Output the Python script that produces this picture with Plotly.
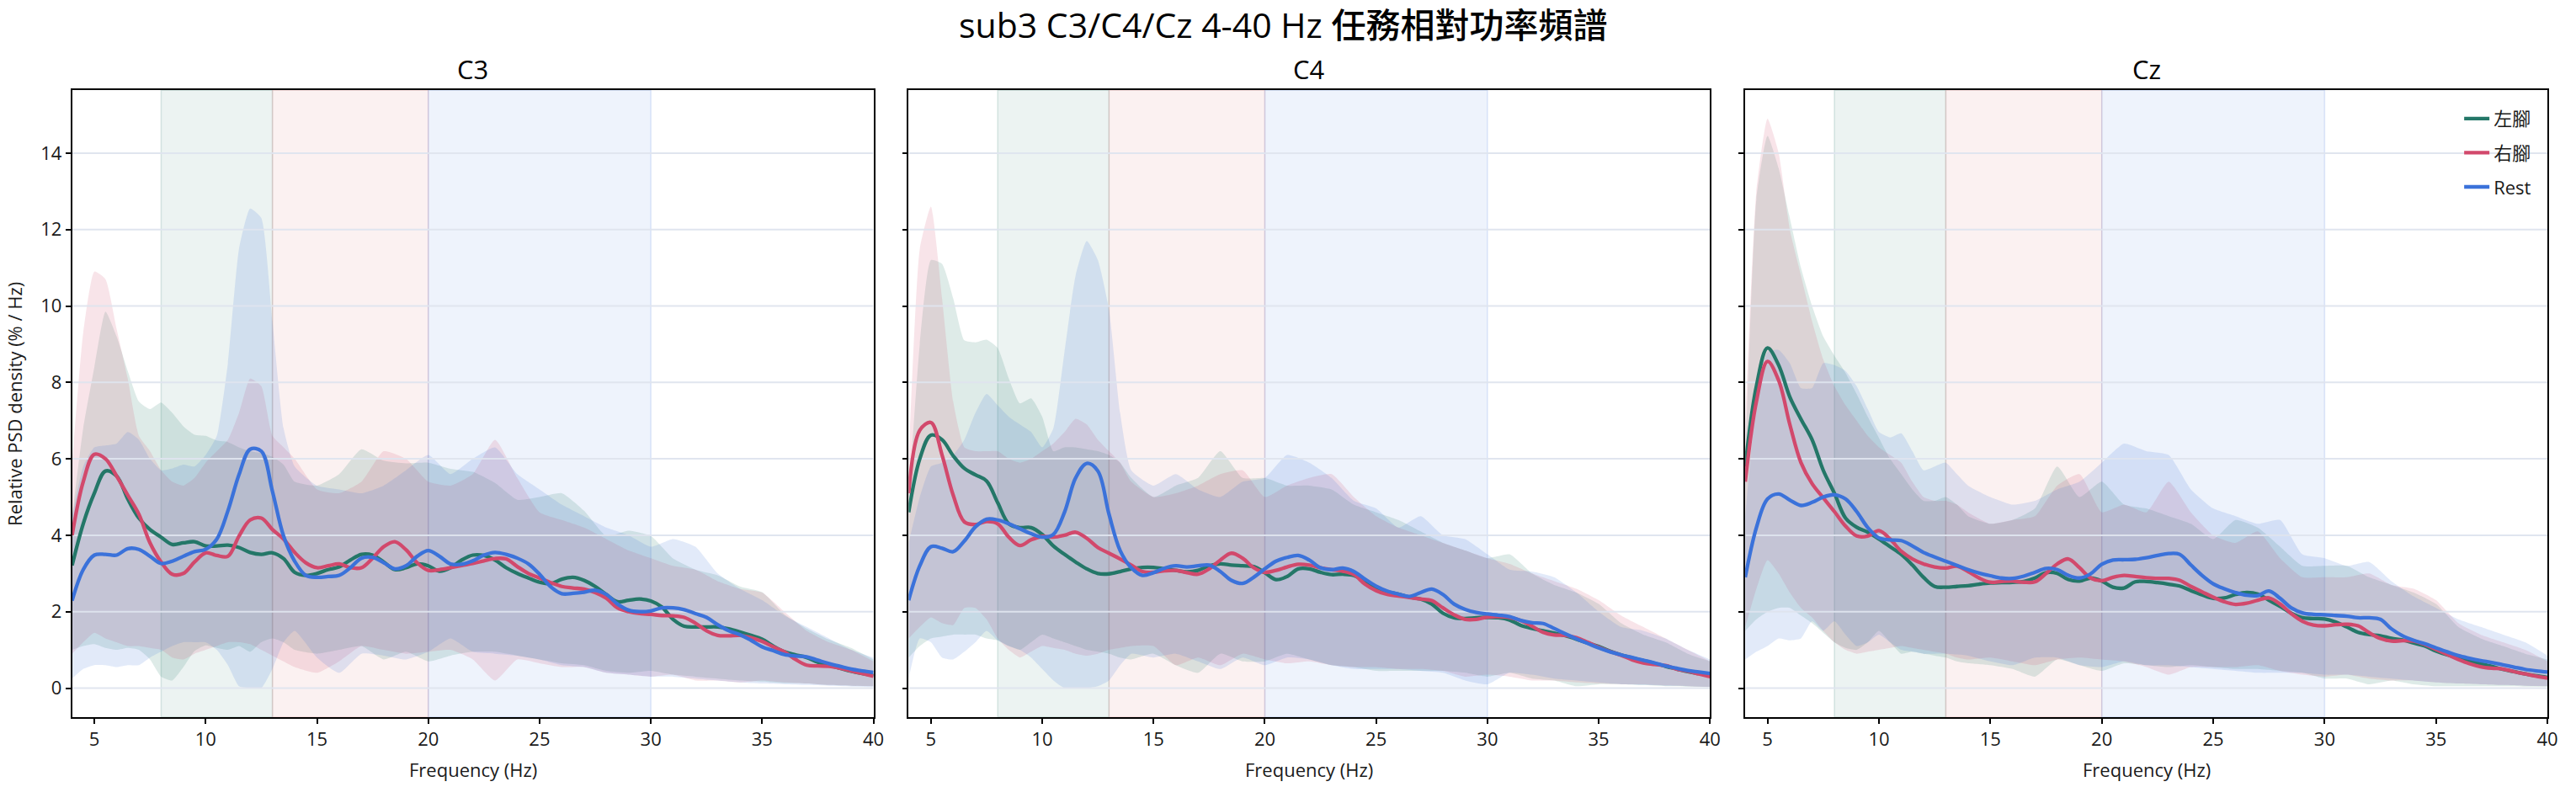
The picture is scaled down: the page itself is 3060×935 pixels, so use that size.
import numpy as np
import plotly.graph_objects as go

# ---------------- data ----------------
FREQ_MEAN = np.arange(4, 40.001, 0.5)                       # 73 points
BAND_FREQ = np.concatenate([np.arange(4, 14.001, 0.5), np.arange(15, 40.001, 1.0)])  # 47 points

CHANNELS = ["C3", "C4", "Cz"]
CONDITIONS = ["左腳", "右腳", "Rest"]
X_TICKS = [5, 10, 15, 20, 25, 30, 35, 40]
Y_TICKS = [0, 2, 4, 6, 8, 10, 12, 14]
FREQ_BANDS = [(8, 13), (13, 20), (20, 30)]

# ---- C3 ----
C3_LEFT_MEAN = [3.21, 4.3, 5.1, 5.68, 5.55, 4.95, 4.45, 4.15, 3.95, 3.76, 3.8, 3.83, 3.72, 3.72, 3.74, 3.68,
                3.55, 3.5, 3.54, 3.39, 3.03, 2.95, 3.0, 3.1, 3.17, 3.35, 3.5, 3.48, 3.3, 3.1, 3.15, 3.25,
                3.2, 3.06, 3.15, 3.35, 3.48, 3.47, 3.35, 3.15, 3.0, 2.88, 2.77, 2.73, 2.85, 2.9, 2.82, 2.66,
                2.45, 2.26, 2.3, 2.33, 2.28, 2.12, 1.8, 1.62, 1.6, 1.6, 1.6, 1.55, 1.47, 1.38, 1.28, 1.1,
                0.95, 0.87, 0.8, 0.68, 0.6, 0.52, 0.44, 0.38, 0.33]
C3_RIGHT_MEAN = [4.0, 5.4, 6.12, 6.0, 5.55, 5.05, 4.55, 3.8, 3.3, 2.98, 3.0, 3.3, 3.54, 3.47, 3.45, 3.98,
                 4.4, 4.45, 4.15, 3.9, 3.55, 3.28, 3.15, 3.2, 3.25, 3.15, 3.15, 3.4, 3.7, 3.83, 3.62, 3.28,
                 3.08, 3.1, 3.15, 3.21, 3.26, 3.33, 3.39, 3.38, 3.18, 3.0, 2.88, 2.76, 2.66, 2.62, 2.59, 2.5,
                 2.35, 2.1, 2.0, 1.95, 1.93, 1.9, 1.89, 1.85, 1.7, 1.5, 1.38, 1.37, 1.38, 1.32, 1.22, 1.08,
                 0.95, 0.75, 0.6, 0.58, 0.57, 0.52, 0.45, 0.38, 0.31]
C3_REST_MEAN = [2.29, 3.1, 3.48, 3.5, 3.48, 3.65, 3.63, 3.45, 3.26, 3.32, 3.45, 3.57, 3.63, 3.9, 4.64, 5.59,
                6.25, 6.2, 5.15, 3.98, 3.32, 2.95, 2.9, 2.92, 2.95, 3.15, 3.4, 3.42, 3.28, 3.12, 3.2, 3.45,
                3.6, 3.45, 3.25, 3.24, 3.33, 3.48, 3.55, 3.5, 3.4, 3.25, 2.98, 2.65, 2.47, 2.48, 2.51, 2.56,
                2.45, 2.2, 2.04, 2.0, 2.02, 2.1, 2.1, 2.05, 1.95, 1.85, 1.66, 1.5, 1.4, 1.25, 1.08, 0.98,
                0.88, 0.84, 0.82, 0.73, 0.64, 0.57, 0.5, 0.45, 0.41]
C3_LEFT_HI = [4.5, 6.8, 8.4, 9.85, 9.2, 8.3, 7.5, 7.3, 7.47, 7.2, 6.85, 6.63, 6.6, 6.48, 6.44, 6.3, 6.2, 6.15,
              6.05, 5.85, 5.4,
              5.3, 5.6, 6.25, 5.95, 5.88, 5.9, 5.74, 5.66, 5.37, 4.93, 5.0, 5.1, 4.64, 3.98, 4.12, 3.98,
              3.39, 3.1, 2.95, 2.66, 2.51, 1.93, 1.56, 1.27, 1.05, 0.75]
C3_LEFT_LO = [1.0, 1.1, 1.15, 1.05, 1.0, 1.05, 1.0, 0.75, 0.3, 0.2, 0.55, 0.97, 1.12, 1.05, 1.0, 1.1, 0.95,
              1.2, 1.3, 1.2, 1.0,
              0.9, 1.0, 1.1, 0.75, 0.95, 0.7, 0.85, 0.95, 0.95, 0.85, 0.75, 0.65, 0.6, 0.45, 0.4, 0.45,
              0.35, 0.3, 0.25, 0.2, 0.17, 0.13, 0.12, 0.08, 0.06, 0.05]
C3_RIGHT_HI = [5.9, 9.3, 10.9, 10.7, 9.4, 8.1, 6.6, 6.2, 5.7, 5.4, 5.3, 5.5, 5.9, 6.2, 6.5, 7.2, 8.1, 7.9,
               6.6, 6.3, 6.0,
               5.2, 5.1, 5.4, 6.2, 6.0, 5.4, 5.3, 5.6, 6.5, 5.5, 4.6, 4.4, 4.2, 3.9, 3.6, 3.4, 3.2, 3.1,
               2.8, 2.6, 2.5, 2.0, 1.5, 1.2, 1.0, 0.7]
C3_RIGHT_LO = [0.9, 1.2, 1.45, 1.3, 1.2, 1.1, 1.1, 1.05, 1.0, 0.8, 0.75, 0.9, 1.0, 1.1, 1.2, 1.2, 1.15, 1.0,
               0.85, 0.7, 0.55,
               0.4, 0.7, 1.1, 1.0, 0.9, 0.95, 1.0, 0.75, 0.2, 0.75, 0.65, 0.55, 0.55, 0.4, 0.35, 0.3,
               0.35, 0.2, 0.2, 0.15, 0.2, 0.15, 0.12, 0.08, 0.06, 0.05]
C3_REST_HI = [4.5, 5.8, 6.3, 6.35, 6.4, 6.7, 6.5, 6.0, 5.7, 5.75, 5.85, 5.8, 6.1, 6.6, 8.5, 11.5, 12.55,
              12.3, 9.6, 6.8, 5.8,
              5.3, 5.2, 5.1, 5.3, 5.7, 6.1, 5.6, 6.0, 6.3, 5.6, 5.2, 4.8, 4.5, 4.2, 4.0, 3.7, 3.9, 3.7,
              3.0, 2.6, 2.3, 1.9, 1.6, 1.3, 1.0, 0.8]
C3_REST_LO = [0.25, 0.5, 0.6, 0.6, 0.55, 0.6, 0.6, 0.8, 0.95, 1.1, 1.2, 1.2, 1.2, 1.0, 0.6, 0.05, 0.0, 0.0,
              0.5, 1.2, 1.5,
              0.8, 0.4, 0.9, 0.85, 0.75, 0.95, 1.3, 0.95, 0.9, 0.85, 0.75, 0.6, 0.55, 0.4, 0.35, 0.3,
              0.3, 0.25, 0.2, 0.15, 0.12, 0.1, 0.08, 0.06, 0.04, 0.03]

# ---- C4 ----
C4_LEFT_MEAN = [4.6, 6.0, 6.62, 6.5, 6.08, 5.75, 5.58, 5.42, 4.85, 4.3, 4.2, 4.2, 4.02, 3.72, 3.5, 3.3,
                3.12, 3.0, 2.99, 3.05, 3.12, 3.16, 3.16, 3.12, 3.08, 3.04, 3.08, 3.2, 3.25, 3.22, 3.2, 3.18,
                3.02, 2.84, 2.92, 3.12, 3.12, 3.03, 2.97, 2.98, 2.95, 2.8, 2.62, 2.52, 2.46, 2.38, 2.33, 2.2,
                1.96, 1.84, 1.82, 1.84, 1.85, 1.84, 1.78, 1.64, 1.56, 1.5, 1.44, 1.37, 1.28, 1.18, 1.09,
                0.97, 0.87, 0.79, 0.72, 0.65, 0.57, 0.5, 0.43, 0.38, 0.33]
C4_RIGHT_MEAN = [5.1, 6.75, 6.95, 6.1, 5.05, 4.35, 4.28, 4.36, 4.3, 3.95, 3.73, 3.88, 3.97, 3.95, 4.0, 4.08,
                 3.92, 3.68, 3.53, 3.38, 3.22, 3.05, 3.03, 3.07, 3.08, 3.02, 2.98, 3.12, 3.35, 3.53, 3.4,
                 3.15, 3.03, 3.08, 3.17, 3.24, 3.22, 3.15, 3.1, 3.06, 2.97, 2.72, 2.55, 2.45, 2.41, 2.37,
                 2.33, 2.29, 2.1, 1.92, 1.8, 1.8, 1.86, 1.87, 1.85, 1.77, 1.62, 1.46, 1.39, 1.38, 1.32, 1.2,
                 1.07, 0.96, 0.86, 0.74, 0.66, 0.62, 0.59, 0.5, 0.44, 0.37, 0.3]
C4_REST_MEAN = [2.3, 3.2, 3.7, 3.66, 3.57, 3.85, 4.22, 4.42, 4.4, 4.3, 4.17, 4.04, 3.95, 4.02, 4.6, 5.5,
                5.88, 5.68, 4.55, 3.6, 3.15, 2.95, 3.02, 3.14, 3.2, 3.17, 3.2, 3.22, 3.05, 2.82, 2.74, 2.9,
                3.12, 3.32, 3.42, 3.47, 3.35, 3.15, 3.1, 3.14, 3.05, 2.85, 2.67, 2.54, 2.46, 2.4, 2.5, 2.59,
                2.45, 2.2, 2.06, 1.98, 1.94, 1.91, 1.87, 1.77, 1.71, 1.69, 1.56, 1.42, 1.29, 1.17, 1.05,
                0.95, 0.87, 0.8, 0.73, 0.66, 0.58, 0.52, 0.46, 0.42, 0.38]
C4_LEFT_HI = [5.0, 9.0, 11.2, 11.1, 10.2, 9.1, 9.05, 9.12, 8.9, 8.1, 7.45, 7.58, 7.1, 6.2, 6.3, 6.3, 6.25,
              6.2, 6.1, 5.9, 5.5,
              5.0, 5.3, 5.5, 6.2, 5.5, 5.5, 5.3, 5.3, 5.2, 4.8, 4.6, 4.4, 4.1, 3.8, 3.6, 3.4, 3.5, 3.0,
              2.7, 2.5, 2.2, 1.7, 1.4, 1.2, 0.9, 0.7]
C4_LEFT_LO = [0.8, 1.1, 1.3, 1.35, 1.4, 1.4, 1.4, 1.3, 1.25, 1.1, 1.0, 1.2, 1.4, 1.3, 1.2, 1.1, 1.0, 0.95,
              0.9, 0.8, 0.75,
              0.9, 0.6, 0.4, 0.9, 0.7, 0.7, 0.9, 0.75, 0.6, 0.55, 0.45, 0.45, 0.45, 0.45, 0.4, 0.3, 0.4,
              0.25, 0.2, 0.05, 0.1, 0.1, 0.08, 0.05, 0.04, 0.03]
C4_RIGHT_HI = [6.0, 11.5, 12.6, 10.2, 7.5, 6.3, 6.2, 6.2, 6.2, 6.0, 5.9, 6.0, 6.2, 6.4, 6.7, 7.05, 6.9, 6.5,
               6.2, 5.9, 5.4,
               5.0, 5.1, 5.3, 5.6, 5.7, 5.0, 5.3, 5.5, 5.6, 5.0, 4.5, 4.2, 4.0, 3.8, 3.6, 3.4, 3.25, 3.0,
               2.8, 2.6, 2.3, 1.9, 1.6, 1.3, 1.0, 0.7]
C4_RIGHT_LO = [1.3, 1.6, 1.85, 1.7, 1.65, 2.1, 2.1, 1.8, 1.3, 1.0, 0.8, 0.95, 1.1, 1.05, 1.0, 0.9, 0.85,
               0.9, 1.0, 1.05, 1.1,
               1.1, 0.6, 0.8, 0.6, 0.9, 0.75, 0.65, 0.7, 0.6, 0.55, 0.55, 0.5, 0.5, 0.45, 0.3, 0.35, 0.3,
               0.2, 0.2, 0.15, 0.12, 0.1, 0.1, 0.07, 0.05, 0.03]
C4_REST_HI = [3.8, 5.0, 5.8, 5.9, 6.1, 6.5, 7.2, 7.7, 7.4, 7.1, 6.9, 6.7, 6.3, 6.8, 8.8, 10.8, 11.7, 11.2,
              9.9, 7.2, 5.7,
              5.3, 5.6, 5.2, 5.0, 5.4, 5.5, 6.1, 5.9, 5.5, 4.9, 4.7, 4.2, 4.5, 4.0, 3.9, 3.5, 3.1, 3.05,
              2.9, 2.5, 2.0, 1.6, 1.5, 1.3, 1.0, 0.75]
C4_REST_LO = [0.25, 1.3, 1.2, 0.8, 0.75, 0.95, 1.2, 1.5, 1.25, 1.1, 1.0, 0.8, 0.5, 0.2, 0.0, 0.0, 0.0, 0.05,
              0.2, 0.6, 0.9,
              0.8, 0.9, 0.7, 0.5, 0.8, 0.6, 0.8, 0.75, 0.6, 0.5, 0.5, 0.5, 0.45, 0.4, 0.2, 0.1, 0.4, 0.35,
              0.25, 0.2, 0.15, 0.1, 0.08, 0.06, 0.05, 0.03]

# ---- Cz ----
CZ_LEFT_MEAN = [5.8, 7.9, 8.9, 8.45, 7.62, 7.04, 6.5, 5.7, 5.1, 4.45, 4.21, 4.08, 3.9, 3.7, 3.5, 3.22, 2.9,
                2.66, 2.64, 2.66, 2.68, 2.72, 2.75, 2.76, 2.77, 2.79, 2.88, 3.02, 3.0, 2.84, 2.8, 2.88, 2.8,
                2.64, 2.62, 2.78, 2.79, 2.76, 2.72, 2.67, 2.55, 2.44, 2.35, 2.36, 2.45, 2.5, 2.46, 2.3,
                2.14, 1.96, 1.84, 1.82, 1.81, 1.73, 1.6, 1.46, 1.4, 1.37, 1.3, 1.26, 1.18, 1.1, 0.97, 0.87,
                0.79, 0.71, 0.64, 0.57, 0.49, 0.43, 0.37, 0.32, 0.28]
CZ_RIGHT_MEAN = [5.4, 7.5, 8.55, 8.05, 6.9, 5.9, 5.35, 4.98, 4.62, 4.24, 3.98, 3.98, 4.12, 3.9, 3.58, 3.38,
                 3.25, 3.17, 3.14, 3.19, 3.05, 2.88, 2.77, 2.79, 2.8, 2.77, 2.78, 3.0, 3.25, 3.38, 3.15,
                 2.88, 2.81, 2.9, 2.95, 2.92, 2.89, 2.87, 2.87, 2.82, 2.66, 2.52, 2.38, 2.26, 2.19, 2.22,
                 2.3, 2.36, 2.2, 1.95, 1.75, 1.65, 1.63, 1.66, 1.67, 1.63, 1.45, 1.3, 1.23, 1.24, 1.23,
                 1.14, 1.01, 0.88, 0.75, 0.64, 0.56, 0.52, 0.5, 0.43, 0.37, 0.31, 0.26]
CZ_REST_MEAN = [2.9, 4.2, 4.95, 5.08, 4.92, 4.78, 4.86, 5.0, 5.06, 4.95, 4.62, 4.2, 3.93, 3.88, 3.86, 3.72,
                3.55, 3.43, 3.32, 3.21, 3.1, 3.01, 2.94, 2.88, 2.87, 2.93, 3.03, 3.13, 3.1, 2.95, 2.88,
                2.99, 3.24, 3.35, 3.36, 3.37, 3.41, 3.47, 3.52, 3.5, 3.22, 2.95, 2.73, 2.6, 2.5, 2.43, 2.42,
                2.54, 2.35, 2.1, 1.97, 1.93, 1.92, 1.9, 1.88, 1.84, 1.84, 1.8, 1.55, 1.37, 1.25, 1.16, 1.05,
                0.95, 0.85, 0.78, 0.72, 0.67, 0.61, 0.55, 0.49, 0.45, 0.42]
CZ_LEFT_HI = [6.0, 12.8, 14.45, 13.6, 12.3, 11.0, 10.0, 9.2, 8.7, 8.25, 7.7, 7.1, 6.55, 6.0, 5.6, 5.2, 4.9,
              4.9, 5.0, 4.8, 4.5,
              4.3, 4.4, 4.7, 5.8, 5.0, 5.4, 4.8, 4.7, 4.5, 4.3, 3.9, 4.4, 4.2, 3.7, 3.2, 3.2, 3.2, 2.9,
              2.7, 2.5, 2.2, 1.6, 1.3, 1.1, 0.9, 0.75]
CZ_LEFT_LO = [1.5, 1.8, 2.0, 2.1, 2.1, 1.9, 1.7, 1.45, 1.2, 1.05, 1.0, 1.2, 1.5, 1.2, 0.9, 0.95, 0.9, 0.85,
              0.8, 0.7, 0.65,
              0.6, 0.5, 0.3, 0.75, 0.6, 0.45, 0.65, 0.6, 0.55, 0.6, 0.55, 0.5, 0.5, 0.45, 0.4, 0.25, 0.25,
              0.1, 0.2, 0.1, 0.05, 0.05, 0.05, 0.05, 0.04, 0.04]
CZ_RIGHT_HI = [7.0, 13.0, 14.9, 14.0, 12.0, 10.8, 9.6, 8.6, 7.9, 7.4, 7.0, 6.6, 6.3, 6.1, 5.9, 5.4, 5.0, 4.9,
               4.9, 4.8, 4.6,
               4.3, 4.4, 4.5, 5.3, 5.6, 4.6, 4.8, 4.6, 5.4, 4.6, 4.0, 3.8, 4.1, 3.4, 2.9, 2.9, 2.9, 3.0,
               2.7, 2.6, 2.3, 1.7, 1.4, 1.2, 1.0, 0.7]
CZ_RIGHT_LO = [1.6, 2.6, 3.35, 3.0, 2.5, 2.1, 1.85, 1.5, 1.2, 1.0, 0.9, 0.95, 1.0, 1.05, 1.1, 1.05, 1.0, 0.95,
               0.9, 0.8, 0.75,
               0.8, 0.7, 0.6, 0.75, 0.8, 0.75, 0.7, 0.55, 0.35, 0.55, 0.55, 0.55, 0.6, 0.45, 0.35, 0.3,
               0.35, 0.25, 0.2, 0.2, 0.15, 0.12, 0.1, 0.08, 0.06, 0.05]
CZ_REST_HI = [4.5, 7.5, 8.8, 8.85, 8.5, 7.85, 7.85, 8.5, 8.45, 8.3, 7.9, 7.3, 6.7, 6.56, 6.67, 6.2, 5.7, 5.8,
              5.9, 5.6, 5.3,
              5.0, 4.8, 4.9, 5.2, 5.4, 5.9, 6.4, 6.2, 6.1, 5.2, 4.7, 4.5, 4.3, 4.4, 3.5, 3.4, 3.2, 3.3,
              2.8, 2.4, 2.1, 1.8, 1.6, 1.4, 1.2, 0.85]
CZ_REST_LO = [0.75, 0.95, 1.1, 1.3, 1.25, 1.3, 1.75, 1.5, 1.75, 1.4, 1.1, 1.2, 1.4, 1.2, 1.0, 0.95, 0.9, 0.9,
              0.9, 0.88, 0.85,
              0.7, 0.6, 0.8, 0.8, 0.6, 0.55, 0.7, 0.6, 0.6, 0.55, 0.5, 0.45, 0.4, 0.4, 0.4, 0.35, 0.35,
              0.3, 0.25, 0.2, 0.15, 0.12, 0.1, 0.08, 0.06, 0.05]

DATA = {
    "C3": {"左腳": (C3_LEFT_MEAN, C3_LEFT_LO, C3_LEFT_HI),
           "右腳": (C3_RIGHT_MEAN, C3_RIGHT_LO, C3_RIGHT_HI),
           "Rest": (C3_REST_MEAN, C3_REST_LO, C3_REST_HI)},
    "C4": {"左腳": (C4_LEFT_MEAN, C4_LEFT_LO, C4_LEFT_HI),
           "右腳": (C4_RIGHT_MEAN, C4_RIGHT_LO, C4_RIGHT_HI),
           "Rest": (C4_REST_MEAN, C4_REST_LO, C4_REST_HI)},
    "Cz": {"左腳": (CZ_LEFT_MEAN, CZ_LEFT_LO, CZ_LEFT_HI),
           "右腳": (CZ_RIGHT_MEAN, CZ_RIGHT_LO, CZ_RIGHT_HI),
           "Rest": (CZ_REST_MEAN, CZ_REST_LO, CZ_REST_HI)},
}

# ---------------- style ----------------
W, H = 3060, 935
FONT = "Open Sans, Noto Sans CJK TC, sans-serif"
TXT = "#1a1a1a"
LINE_RGB = {"左腳": (36, 119, 104), "右腳": (210, 73, 108), "Rest": (59, 114, 218)}
BAND_RGB = [(35, 119, 106), (205, 90, 90), (59, 115, 220)]
X_DOMAINS = [(86 / W, 1042 / W), (1084 / W, 2040 / W), (2082 / W, 3039 / W)]
Y_DOMAIN = (1 - 852 / H, 1 - 107 / H)
X_RANGE = [4, 40]
Y_RANGE = [-0.76, 15.65]

def rgba(c, a):
    return f"rgba({c[0]},{c[1]},{c[2]},{a})"

fig = go.Figure()
shapes = []
annotations = []

for i, ch in enumerate(CHANNELS):
    sfx = "" if i == 0 else str(i + 1)
    xa, ya = "x" + sfx, "y" + sfx

    # confidence bands
    for cond in CONDITIONS:
        mean, lo, hi = DATA[ch][cond]
        c = LINE_RGB[cond]
        fig.add_trace(go.Scatter(x=BAND_FREQ, y=lo, mode="lines",
                                 line=dict(width=0, shape="spline", smoothing=0.5),
                                 hoverinfo="skip", showlegend=False, xaxis=xa, yaxis=ya))
        fig.add_trace(go.Scatter(x=BAND_FREQ, y=hi, mode="lines", fill="tonexty",
                                 fillcolor=rgba(c, 0.15),
                                 line=dict(width=0, shape="spline", smoothing=0.5),
                                 hoverinfo="skip", showlegend=False, xaxis=xa, yaxis=ya))

    # horizontal grid lines (drawn over the fills, like the reference)
    gx, gy = [], []
    for t in Y_TICKS:
        gx += [X_RANGE[0], X_RANGE[1], None]
        gy += [t, t, None]
    fig.add_trace(go.Scatter(x=gx, y=gy, mode="lines",
                             line=dict(color="rgba(222,228,238,0.95)", width=2),
                             hoverinfo="skip", showlegend=False, xaxis=xa, yaxis=ya))

    # mean lines
    for cond in CONDITIONS:
        mean, lo, hi = DATA[ch][cond]
        fig.add_trace(go.Scatter(x=FREQ_MEAN, y=mean, mode="lines", name=cond,
                                 legendgroup=cond, showlegend=(i == 0),
                                 line=dict(color=rgba(LINE_RGB[cond], 1), width=4.3,
                                           shape="spline", smoothing=1.0),
                                 xaxis=xa, yaxis=ya))

    # frequency band backgrounds
    for (b0, b1), bc in zip(FREQ_BANDS, BAND_RGB):
        shapes.append(dict(type="rect", xref=xa, yref=f"{ya} domain", x0=b0, x1=b1, y0=0, y1=1,
                           fillcolor=rgba(bc, 0.085), line=dict(color=rgba(bc, 0.16), width=1.5),
                           layer="below"))

    # axes
    common = dict(showline=True, linecolor="black", linewidth=1.6, mirror=True,
                  ticks="outside", ticklen=6, tickwidth=1.5, tickcolor="black",
                  showgrid=False, zeroline=False,
                  tickfont=dict(family=FONT, size=22, color=TXT))
    fig.update_layout(**{
        "xaxis" + sfx: dict(domain=list(X_DOMAINS[i]), range=X_RANGE, tickvals=X_TICKS,
                            anchor=ya, **common),
        "yaxis" + sfx: dict(domain=list(Y_DOMAIN), range=Y_RANGE, tickvals=Y_TICKS,
                            anchor=xa, showticklabels=(i == 0), **common),
    })

    xc = (X_DOMAINS[i][0] + X_DOMAINS[i][1]) / 2
    annotations.append(dict(text=ch, x=xc, y=1 - 82 / H, xref="paper", yref="paper",
                            xanchor="center", yanchor="middle", showarrow=False,
                            font=dict(family=FONT, size=31, color="black", weight=500)))
    annotations.append(dict(text="Frequency (Hz)", x=xc, y=1 - 914 / H, xref="paper", yref="paper",
                            xanchor="center", yanchor="middle", showarrow=False,
                            font=dict(family=FONT, size=22, color=TXT)))

annotations.append(dict(text="Relative PSD density (% / Hz)", x=17 / W, y=1 - 480 / H,
                        xref="paper", yref="paper", xanchor="center", yanchor="middle",
                        textangle=-90, showarrow=False, font=dict(family=FONT, size=22, color=TXT)))
annotations.append(dict(text="sub3 C3/C4/Cz 4-40 Hz 任務相對功率頻譜", x=0.5, y=1 - 29 / H,
                        xref="paper", yref="paper", xanchor="center", yanchor="middle",
                        showarrow=False, font=dict(family=FONT, size=41, color="black", weight=500)))

fig.update_layout(
    width=W, height=H,
    margin=dict(l=0, r=0, t=0, b=0),
    paper_bgcolor="white", plot_bgcolor="white",
    shapes=shapes, annotations=annotations,
    showlegend=True,
    legend=dict(x=3025 / W, y=1 - 120 / H, xanchor="right", yanchor="top",
                bgcolor="rgba(0,0,0,0)", borderwidth=0, tracegroupgap=9,
                font=dict(family=FONT, size=22, color=TXT)),
)

fig.write_html("out.html")
